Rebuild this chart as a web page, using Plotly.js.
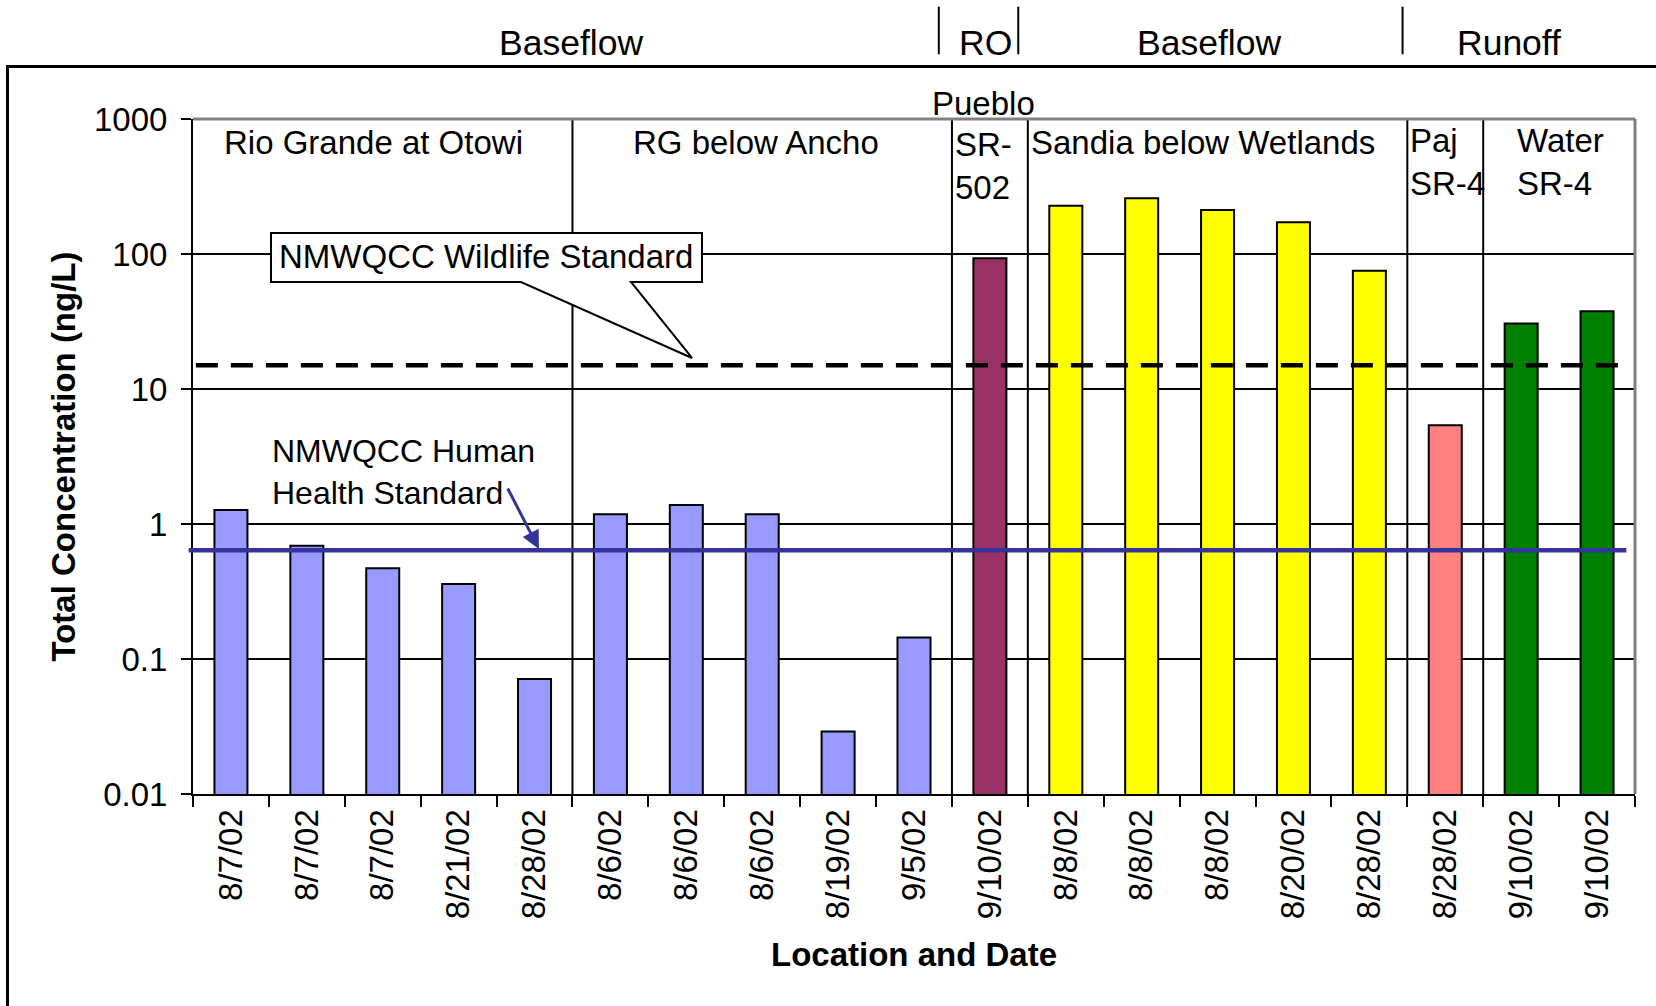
<!DOCTYPE html>
<html>
<head>
<meta charset="utf-8">
<script src="https://cdn.plot.ly/plotly-3.0.1.min.js"></script>
<style>
  html, body { margin: 0; padding: 0; background: #ffffff; }
  #chart { width: 1656px; height: 1006px; }
</style>
</head>
<body>
<div id="chart"></div>
<script>
// ---- Data ----
const sampleIds = ['OTO-1','OTO-2','OTO-3','OTO-4','OTO-5',
                   'ANC-1','ANC-2','ANC-3','ANC-4','ANC-5',
                   'PUE-1',
                   'SAN-1','SAN-2','SAN-3','SAN-4','SAN-5',
                   'PAJ-1',
                   'WAT-1','WAT-2'];
const sampleDates = ['8/7/02','8/7/02','8/7/02','8/21/02','8/28/02',
                     '8/6/02','8/6/02','8/6/02','8/19/02','9/5/02',
                     '9/10/02',
                     '8/8/02','8/8/02','8/8/02','8/20/02','8/28/02',
                     '8/28/02',
                     '9/10/02','9/10/02'];
const siteGroup = ['Otowi','Otowi','Otowi','Otowi','Otowi',
                   'Ancho','Ancho','Ancho','Ancho','Ancho',
                   'Pueblo',
                   'Sandia','Sandia','Sandia','Sandia','Sandia',
                   'Paj',
                   'Water','Water'];
const totalConc = [1.27, 0.69, 0.47, 0.36, 0.071,
                   1.18, 1.38, 1.18, 0.029, 0.144,
                   93,
                   228, 259, 212, 172, 75,
                   5.4,
                   30.5, 37.7];
const groupColor = {Otowi:'#9999FF', Ancho:'#9999FF', Pueblo:'#993366',
                    Sandia:'#FFFF00', Paj:'#FF8080', Water:'#008000'};
const wildlifeStandard = 15;       // ng/L (dashed line)
const humanHealthStandard = 0.64;  // ng/L (blue line)
const yTickVals = [0.01, 0.1, 1, 10, 100, 1000];
const yTickText = ['0.01', '0.1', '1', '10', '100', '1000'];

// ---- Build ----
const FONT = 'Liberation Sans, Arial, Helvetica, sans-serif';
const barColors = siteGroup.map(g => groupColor[g]);

// group boundaries (where the site changes)
const boundaries = [];
for (let i = 1; i < siteGroup.length; i++) {
  if (siteGroup[i] !== siteGroup[i - 1]) boundaries.push(i - 0.5);
}

const trace = {
  type: 'bar',
  x: sampleIds,
  y: totalConc,
  marker: { color: barColors, line: { color: '#000000', width: 2 } },
  hoverinfo: 'skip',
  showlegend: false
};

const shapes = [];
boundaries.forEach(b => shapes.push({
  type: 'line', xref: 'x', yref: 'paper', x0: b, x1: b, y0: 0, y1: 1,
  line: { color: '#000000', width: 2 }, layer: 'above'
}));
// plot-area border (top and right, grey)
shapes.push({ type: 'line', xref: 'paper', yref: 'paper', x0: 0, x1: 1, y0: 1, y1: 1,
  line: { color: '#808080', width: 3 }, layer: 'above' });
shapes.push({ type: 'line', xref: 'paper', yref: 'paper', x0: 1, x1: 1, y0: 0, y1: 1,
  line: { color: '#808080', width: 3 }, layer: 'above' });
// standards
shapes.push({ type: 'line', xref: 'paper', yref: 'y', x0: 0.002, x1: 0.994,
  y0: wildlifeStandard, y1: wildlifeStandard,
  line: { color: '#000000', width: 4.5, dash: '22px,13px' }, layer: 'above' });
shapes.push({ type: 'line', xref: 'paper', yref: 'y', x0: -0.003, x1: 0.994,
  y0: humanHealthStandard, y1: humanHealthStandard,
  line: { color: '#333399', width: 4.5 }, layer: 'above' });
// callout box with pointer
shapes.push({ type: 'path', xref: 'paper', yref: 'paper',
  path: 'M 0.05409 0.75852 L 0.05409 0.83111 L 0.35298 0.83111 L 0.35298 0.75852 ' +
        'L 0.30374 0.75852 L 0.34605 0.64593 L 0.22746 0.75852 Z',
  fillcolor: '#ffffff', line: { color: '#000000', width: 2 }, layer: 'above' });
// header separators
[0.5172, 0.5723, 0.8388].forEach(x => shapes.push({
  type: 'line', xref: 'paper', yref: 'paper', x0: x, x1: x, y0: 1.0959, y1: 1.1664,
  line: { color: '#000000', width: 2 }
}));
// outer chart frame
shapes.push({ type: 'rect', xref: 'paper', yref: 'paper',
  x0: -0.12864, x1: 1.03, y0: -0.35, y1: 1.07778,
  line: { color: '#000000', width: 3 }, fillcolor: 'rgba(0,0,0,0)' });

const txt = (text, x, y, xanchor, size, extra) => Object.assign({
  text: text, xref: 'paper', yref: 'paper', x: x, y: y,
  xanchor: xanchor, yanchor: 'middle', showarrow: false,
  font: { family: FONT, size: size, color: '#000000' }
}, extra || {});

const annotations = [
  txt('Baseflow', 0.2618, 1.1133, 'center', 35.5),
  txt('RO', 0.5499, 1.1133, 'center', 35.5),
  txt('Baseflow', 0.7049, 1.1133, 'center', 35.5),
  txt('Runoff', 0.9126, 1.1133, 'center', 35.5),
  txt('Rio Grande at Otowi', 0.1252, 0.9659, 'center', 33),
  txt('RG below Ancho', 0.3904, 0.9659, 'center', 33),
  txt('Pueblo', 0.5482, 1.0226, 'center', 33),
  txt('SR-<br>502', 0.527, 0.9311, 'left', 33, { align: 'left' }),
  txt('Sandia below Wetlands', 0.7004, 0.9659, 'center', 33),
  txt('Paj<br>SR-4', 0.8426, 0.937, 'left', 33, { align: 'left' }),
  txt('Water<br>SR-4', 0.9168, 0.937, 'left', 33, { align: 'left' }),
  txt('NMWQCC Wildlife Standard', 0.2032, 0.797, 'center', 33),
  txt('NMWQCC Human<br>Health Standard', 0.0537, 0.477, 'left', 32, { align: 'left' }),
  { text: '', xref: 'paper', yref: 'paper', x: 0.2399, y: 0.363,
    ax: -32, ay: -62, showarrow: true, arrowhead: 2, arrowsize: 1.2,
    arrowwidth: 3, arrowcolor: '#333399', standoff: 0 }
];

const layout = {
  width: 1656, height: 1006,
  margin: { l: 193, r: 21, t: 119, b: 212, pad: 0 },
  paper_bgcolor: '#ffffff', plot_bgcolor: '#ffffff',
  font: { family: FONT, size: 33, color: '#000000' },
  bargap: 0.565,
  showlegend: false,
  xaxis: {
    type: 'category',
    categoryorder: 'array', categoryarray: sampleIds,
    tickmode: 'array', tickvals: sampleIds, ticktext: sampleDates,
    tickangle: -90, tickson: 'boundaries',
    ticks: 'outside', ticklen: 11, tickwidth: 2, tickcolor: '#000000',
    tickfont: { family: FONT, size: 33, color: '#000000' },
    showline: true, linecolor: '#000000', linewidth: 2,
    showgrid: false, zeroline: false,
    range: [-0.5, sampleIds.length - 0.5],
    automargin: false, fixedrange: true,
    title: { text: 'Location and Date', standoff: 25,
             font: { family: FONT, size: 33, weight: 'bold', color: '#000000' } }
  },
  yaxis: {
    type: 'log', range: [-2, 3],
    tickmode: 'array', tickvals: yTickVals, ticktext: yTickText,
    ticks: 'outside', ticklen: 10, tickwidth: 2, tickcolor: '#000000',
    ticklabelstandoff: 7,
    tickfont: { family: FONT, size: 33, color: '#000000' },
    showline: true, linecolor: '#000000', linewidth: 2,
    showgrid: true, gridcolor: '#000000', gridwidth: 2,
    zeroline: false, automargin: false, fixedrange: true,
    title: { text: 'Total Concentration (ng/L)', standoff: 8,
             font: { family: FONT, size: 33, weight: 'bold', color: '#000000' } }
  },
  shapes: shapes,
  annotations: annotations
};

Plotly.newPlot('chart', [trace], layout, { staticPlot: true, displayModeBar: false });
</script>
</body>
</html>
